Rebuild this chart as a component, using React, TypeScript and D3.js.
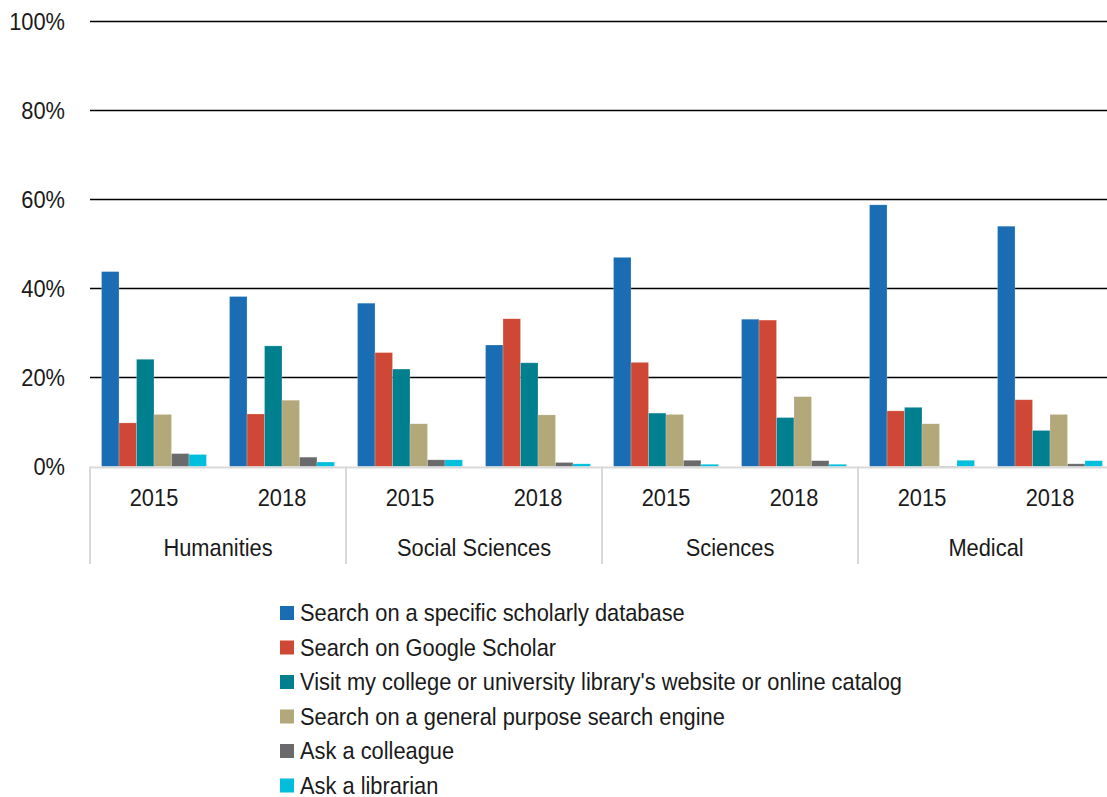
import React from "react";
import * as d3 from "d3";

const categories = ["Humanities", "Social Sciences", "Sciences", "Medical"];
const years = ["2015", "2018"];
const series = [
  "Search on a specific scholarly database",
  "Search on Google Scholar",
  "Visit my college or university library's website or online catalog",
  "Search on a general purpose search engine",
  "Ask a colleague",
  "Ask a librarian",
];
const colors = ["#1a6db3", "#cf4836", "#00808f", "#b3a87a", "#6a6a6c", "#00bedc"];
// values per series, ordered Humanities15, Humanities18, Social15, Social18, Sciences15, Sciences18, Medical15, Medical18
const scholarlyDb = [43.8, 38.2, 36.7, 27.3, 47.0, 33.1, 58.8, 54.0];
const googleScholar = [9.8, 11.8, 25.6, 33.2, 23.4, 32.9, 12.5, 15.0];
const libraryWebsite = [24.1, 27.1, 21.9, 23.3, 12.0, 11.0, 13.3, 8.1];
const generalEngine = [11.7, 14.9, 9.6, 11.6, 11.7, 15.7, 9.6, 11.7];
const askColleague = [2.9, 2.1, 1.5, 0.9, 1.4, 1.3, 0.1, 0.6];
const askLibrarian = [2.7, 1.0, 1.5, 0.6, 0.5, 0.5, 1.4, 1.3];
const seriesValues = [scholarlyDb, googleScholar, libraryWebsite, generalEngine, askColleague, askLibrarian];
const yTicks = [0, 20, 40, 60, 80, 100];

const W = 1107;
const H = 797;
const FONT = "'Liberation Sans Narrow', 'Arial Narrow', 'Liberation Sans', Arial, sans-serif";
const SX = 0.91;

function T(props: { x: number; y: number; anchor?: string; children: React.ReactNode }) {
  return (
    <text
      transform={`translate(${props.x},${props.y}) scale(${SX},1)`}
      textAnchor={props.anchor || "start"}
      dominantBaseline="central"
      fontSize={24}
      fill="#1a1a1a"
    >
      {props.children}
    </text>
  );
}

export default function App() {
  const left = 90;
  const right = 1114;
  const y = d3.scaleLinear().domain([0, 100]).range([466.5, 21.5]);
  const groups = categories.flatMap((c) => years.map((yr) => `${c}|${yr}`));
  const x0 = d3.scaleBand<string>().domain(groups).range([left, right]).padding(0);
  const x1 = d3
    .scaleBand<number>()
    .domain(series.map((_, i) => i))
    .range([0, x0.bandwidth()])
    .paddingInner(0)
    .paddingOuter(0.66);
  const xc = d3.scaleBand<string>().domain(categories).range([left, right]).padding(0);
  const baseY = y(0);

  return (
    <svg width={W} height={H} style={{ position: "absolute", left: 0, top: 0, background: "#fff" }} fontFamily={FONT}>
      {yTicks.map((t) => (
        <g key={t}>
          {t > 0 && <line x1={left} x2={W} y1={y(t)} y2={y(t)} stroke="#000" strokeWidth={1.6} />}
          <T x={65} y={y(t)} anchor="end">
            {t}%
          </T>
        </g>
      ))}
      {groups.map((g, gi) => (
        <g key={g} transform={`translate(${x0(g)},0)`}>
          {seriesValues.map((vals, si) => (
            <rect
              key={si}
              x={x1(si)}
              width={x1.bandwidth()}
              y={y(vals[gi])}
              height={baseY - y(vals[gi])}
              fill={colors[si]}
              stroke="#ffffff"
              strokeOpacity={0.35}
              strokeWidth={0.6}
            />
          ))}
          <T x={x0.bandwidth() / 2} y={498} anchor="middle">
            {g.split("|")[1]}
          </T>
        </g>
      ))}
      <line x1={left} x2={W} y1={baseY + 1} y2={baseY + 1} stroke="#d9d9d9" strokeWidth={2} />
      {categories.map((c) => (
        <g key={c}>
          <line x1={xc(c)!} x2={xc(c)!} y1={baseY} y2={564} stroke="#d9d9d9" strokeWidth={2} />
          <T x={xc(c)! + xc.bandwidth() / 2} y={548} anchor="middle">
            {c}
          </T>
        </g>
      ))}
      <line x1={right} x2={right} y1={baseY} y2={564} stroke="#d9d9d9" strokeWidth={2} />
      {series.map((s, i) => (
        <g key={s} transform={`translate(280,${613 + i * 34.5})`}>
          <rect x={0} y={-7} width={14} height={14} fill={colors[i]} />
          <T x={20} y={0}>
            {s}
          </T>
        </g>
      ))}
    </svg>
  );
}
